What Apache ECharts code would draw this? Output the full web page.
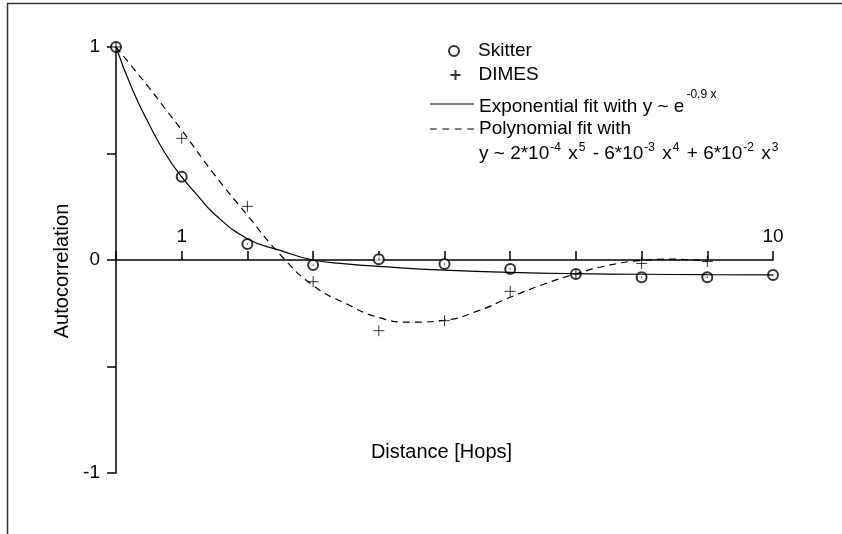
<!DOCTYPE html>
<html>
<head>
<meta charset="utf-8">
<script src="https://cdn.jsdelivr.net/npm/echarts@6.0.0/dist/echarts.min.js"></script>
<style>
  html, body { margin: 0; padding: 0; background: #fff; }
  #main { width: 842px; height: 534px; }
</style>
</head>
<body>
<div id="main"></div>
<script>
var dom = document.getElementById('main')
var chart = echarts.init(dom)

var FONT = '"Liberation Sans", Arial, sans-serif'

// measured points
var hops = [0, 1, 2, 3, 4, 5, 6, 7, 8, 9, 10]
var skitter = [1, 0.391, 0.075, -0.023, 0.004, -0.019, -0.042, -0.066, -0.081, -0.081, -0.070]
var dimesHops = [0, 1, 2, 3, 4, 5, 6, 7, 8, 9]
var dimes = [1, 0.571, 0.252, -0.102, -0.332, -0.285, -0.147, -0.066, -0.016, -0.007]

// fit curves
var expX = [0, 0.25, 0.5, 0.75, 1, 1.25, 1.5, 2, 2.5, 3, 3.5, 4, 5, 6, 7, 8, 9, 10]
var expY = [1, 0.8, 0.64, 0.5, 0.39, 0.3, 0.215, 0.1, 0.045, 0.0, -0.018, -0.03, -0.048, -0.058, -0.064, -0.067, -0.069, -0.07]
var polyX = [0, 0.25, 0.5, 0.75, 1, 1.5, 2, 2.5, 3, 3.5, 4, 4.5, 5, 5.5, 6, 6.5, 7, 7.5, 8, 8.5, 9]
var polyY = [1, 0.905, 0.81, 0.71, 0.61, 0.40, 0.21, 0.025, -0.12, -0.205, -0.27, -0.292, -0.283, -0.24, -0.175, -0.115, -0.065, -0.025, -0.002, 0.004, -0.006]

var xLabels = [1, 10]
var yLabels = [1, 0, -1]

function pairs(xs, ys) {
    return ys.map(function (y, i) { return [xs[i], y] })
}

var plusPath = 'path://M0,5L10,5M5,0L5,10'
// legend line samples (filled strips)
var solidIcon = 'path://M0,0h46v1h-46z'
var dashIcon = 'path://M0,0h7v1h-7zM13,0h7v1h-7zM26,0h7v1h-7zM39,0h7v1h-7z'

var options = {
    animation: false,
    textStyle: { fontFamily: FONT, color: '#000' },
    grid: { left: 116, right: 69, top: 47, bottom: 61, containLabel: false, outerBoundsMode: 'none' },
    graphic: [
        {
            type: 'polyline',
            shape: { points: [[7.5, 534], [7.5, 3.5], [842, 3.5]] },
            style: { stroke: '#333', lineWidth: 1.5, fill: null }
        },
        {
            type: 'text',
            left: 479,
            top: 142,
            style: {
                text: '{n|y ~ 2*10}{s|-4}{n| x}{s|5}{n| - 6*10}{s|-3}{n| x}{s|4}{n| + 6*10}{s|-2}{n| x}{s|3}',
                rich: {
                    n: { fontSize: 19, lineHeight: 24, fontFamily: FONT, fill: '#000' },
                    s: { fontSize: 12, lineHeight: 12, verticalAlign: 'top', padding: [0, 2, 0, 1], fontFamily: FONT, fill: '#000' }
                }
            }
        }
    ],
    legend: [
        {
            data: ['Skitter'], left: 448, top: 41, padding: 0,
            itemWidth: 10, itemHeight: 10,
            textStyle: { fontSize: 19, lineHeight: 20, color: '#000', fontFamily: FONT, padding: [0, 0, 0, 14] }
        },
        {
            data: ['DIMES'], left: 448, top: 65, padding: 0,
            itemWidth: 10, itemHeight: 10,
            textStyle: { fontSize: 19, lineHeight: 20, color: '#000', fontFamily: FONT, padding: [0, 0, 0, 13] }
        },
        {
            data: [{ name: 'Exponential fit', icon: solidIcon }], left: 430, top: 89, padding: 0,
            itemWidth: 44, itemHeight: 1.2,
            formatter: function () {
                return '{n|Exponential fit with y ~ e}{s|-0.9 x}'
            },
            textStyle: {
                color: '#000', fontFamily: FONT, padding: [6, 0, 0, 0],
                rich: {
                    n: { fontSize: 19, lineHeight: 36, color: '#000', fontFamily: FONT },
                    s: { fontSize: 12, lineHeight: 12, verticalAlign: 'top', padding: [0, 0, 0, 2], color: '#000', fontFamily: FONT }
                }
            }
        },
        {
            data: [{ name: 'Polynomial fit', icon: dashIcon }], left: 430, top: 118, padding: 0,
            itemWidth: 44, itemHeight: 1.2,
            formatter: function () { return 'Polynomial fit with' },
            textStyle: { fontSize: 19, lineHeight: 20, color: '#000', fontFamily: FONT, padding: [2, 0, 0, 0] }
        }
    ],
    xAxis: {
        type: 'value',
        min: 0,
        max: 10,
        interval: 1,
        position: 'bottom',
        // the axis sits on y = 0, halfway up the 426 px tall grid
        offset: -213,
        name: 'Distance [Hops]',
        nameLocation: 'middle',
        nameGap: 182,
        nameTextStyle: { fontSize: 20, color: '#000', fontFamily: FONT, padding: [0, 6, 0, 0] },
        axisLine: { onZero: false, lineStyle: { color: '#000', width: 1.5 } },
        axisTick: { inside: true, length: 9, lineStyle: { color: '#000', width: 1.5 } },
        axisLabel: {
            inside: true,
            margin: 14,
            fontSize: 19,
            color: '#000',
            fontFamily: FONT,
            showMinLabel: true,
            showMaxLabel: true,
            formatter: function (v) { return xLabels.indexOf(v) >= 0 ? String(v) : '' }
        },
        splitLine: { show: false }
    },
    yAxis: {
        type: 'value',
        min: -1,
        max: 1,
        interval: 0.5,
        name: 'Autocorrelation',
        nameLocation: 'middle',
        nameGap: 43,
        nameTextStyle: { fontSize: 20, color: '#000', fontFamily: FONT, padding: [0, 22, 0, 0] },
        axisLine: { onZero: false, lineStyle: { color: '#000', width: 1.5 } },
        axisTick: { inside: false, length: 9, lineStyle: { color: '#000', width: 1.5 } },
        axisLabel: {
            margin: 16,
            fontSize: 19,
            color: '#000',
            fontFamily: FONT,
            formatter: function (v) { return yLabels.indexOf(v) >= 0 ? String(v) : '' }
        },
        splitLine: { show: false }
    },
    series: [
        {
            name: 'Exponential fit',
            type: 'line',
            data: pairs(expX, expY),
            smooth: true,
            symbol: 'none',
            lineStyle: { color: '#000', width: 1.2 },
            itemStyle: { color: '#000' }
        },
        {
            name: 'Polynomial fit',
            type: 'line',
            data: pairs(polyX, polyY),
            smooth: true,
            symbol: 'none',
            lineStyle: { color: '#000', width: 1.2, type: [7, 5] },
            itemStyle: { color: '#000' }
        },
        {
            name: 'Skitter',
            type: 'scatter',
            data: pairs(hops, skitter),
            symbol: 'emptyCircle',
            symbolSize: 10,
            itemStyle: { color: '#000', borderColor: '#000', borderWidth: 1 }
        },
        {
            name: 'Skitter centre',
            type: 'scatter',
            data: pairs(hops, skitter),
            symbol: 'circle',
            symbolSize: 1.5,
            itemStyle: { color: '#000' }
        },
        {
            name: 'DIMES',
            type: 'scatter',
            data: pairs(dimesHops, dimes),
            symbol: plusPath,
            symbolSize: 11,
            itemStyle: { color: 'none', borderColor: '#000', borderWidth: 1 }
        }
    ]
}

chart.setOption(options)
</script>
</body>
</html>
